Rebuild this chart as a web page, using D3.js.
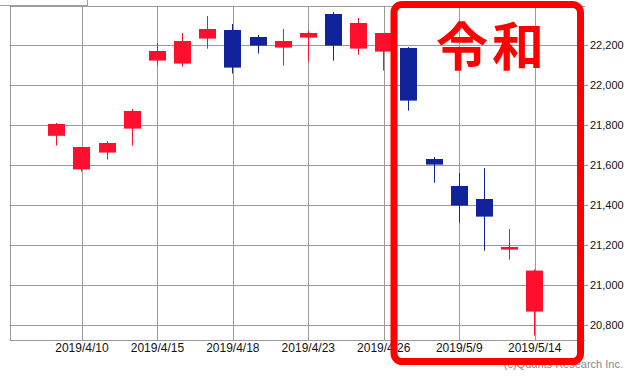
<!DOCTYPE html>
<html>
<head>
<meta charset="utf-8">
<script src="https://cdn.jsdelivr.net/npm/d3@7"></script>
<style>
  body { margin: 0; background: #fff; }
  svg { display: block; }
</style>
</head>
<body>
<svg id="chart" width="634" height="378"></svg>
<script>
// Nikkei 225 daily candles, 2019/4/9 - 2019/5/14
const dates = ["2019/4/9", "2019/4/10", "2019/4/11", "2019/4/12", "2019/4/15", "2019/4/16", "2019/4/17",
    "2019/4/18", "2019/4/19", "2019/4/22", "2019/4/23", "2019/4/24", "2019/4/25", "2019/4/26",
    "2019/5/7", "2019/5/8", "2019/5/9", "2019/5/10", "2019/5/13", "2019/5/14"];
const opens  = [21746, 21578, 21662, 21782, 22122, 22107, 22232, 22275, 22240, 22187, 22237, 22355, 22182, 22167,
    22185, 21630, 21495, 21430, 21177, 20867];
const highs  = [21810, 21690, 21720, 21880, 22210, 22260, 22345, 22305, 22250, 22280, 22270, 22365, 22335, 22260,
    22190, 21640, 21560, 21585, 21280, 21078];
const lows   = [21697, 21567, 21627, 21697, 22100, 22092, 22182, 22057, 22157, 22097, 22117, 22122, 22152, 22072,
    21872, 21512, 21312, 21172, 21127, 20747];
const closes = [21805, 21690, 21710, 21870, 22170, 22220, 22280, 22087, 22197, 22220, 22260, 22197, 22310, 22260,
    21922, 21602, 21397, 21342, 21190, 21072];

const xTickLabels = ["2019/4/10", "2019/4/15", "2019/4/18", "2019/4/23", "2019/4/26", "2019/5/9", "2019/5/14"];
const yTicks = [20800, 21000, 21200, 21400, 21600, 21800, 22000, 22200];

const data = dates.map((d, i) => ({ date: d, i: i, o: opens[i], h: highs[i], l: lows[i], c: closes[i] }));

const svg = d3.select("#chart");
const plotL = 9.5, plotR = 585, plotT = 6, plotB = 340;

const x = d3.scaleLinear().domain([-1.88, 21]).range([plotL, plotR]);
const y = d3.scaleLinear().domain([20725, 22395]).range([plotB, plotT]);

const gridColor = "#9a9a9a";
const upColor = "#fe0f2d";
const downColor = "#10239a";
const px = v => Math.round(v) + 0.5;

// grid
const grid = svg.append("g");
grid.selectAll(".hgrid")
    .data(yTicks)
    .enter().append("line")
    .attr("class", "hgrid")
    .attr("x1", plotL).attr("x2", plotR + 3)
    .attr("y1", d => px(y(d))).attr("y2", d => px(y(d)))
    .attr("stroke", gridColor);

grid.selectAll(".vgrid")
    .data(xTickLabels)
    .enter().append("line")
    .attr("class", "vgrid")
    .attr("x1", d => px(x(dates.indexOf(d)))).attr("x2", d => px(x(dates.indexOf(d))))
    .attr("y1", plotT).attr("y2", plotB)
    .attr("stroke", gridColor);

// frame
grid.append("line").attr("x1", px(plotL)).attr("x2", px(plotL)).attr("y1", plotT).attr("y2", plotB).attr("stroke", gridColor);
grid.append("line").attr("x1", plotL).attr("x2", plotR).attr("y1", px(plotT)).attr("y2", px(plotT)).attr("stroke", gridColor);
grid.append("line").attr("x1", plotL).attr("x2", plotR).attr("y1", px(plotB)).attr("y2", px(plotB)).attr("stroke", gridColor);

// little box at top-left corner
svg.append("rect")
    .attr("x", -1).attr("y", -10).attr("width", 88.5).attr("height", 15.5)
    .attr("fill", "#fff").attr("stroke", "#a0a0a0");

// candles
const candles = svg.append("g").selectAll(".candle")
    .data(data)
    .enter().append("g")
    .attr("class", "candle");

candles.append("line")
    .attr("x1", d => px(x(d.i) - 0.5)).attr("x2", d => px(x(d.i) - 0.5))
    .attr("y1", d => y(d.h)).attr("y2", d => y(d.l))
    .attr("stroke", d => d.c >= d.o ? upColor : downColor)
    .attr("stroke-width", 1);

candles.append("rect")
    .attr("x", d => Math.round(x(d.i) - 8.5))
    .attr("width", 17)
    .attr("y", d => y(Math.max(d.o, d.c)))
    .attr("height", d => Math.max(1, y(Math.min(d.o, d.c)) - y(Math.max(d.o, d.c))))
    .attr("fill", d => d.c >= d.o ? upColor : downColor);

// axis labels
svg.selectAll(".ylab")
    .data(yTicks)
    .enter().append("text")
    .attr("class", "ylab")
    .attr("x", 590)
    .attr("y", d => y(d))
    .attr("dy", "0.36em")
    .style("font-family", "Liberation Sans, Arial, sans-serif")
    .style("font-size", "11px")
    .attr("fill", "#111")
    .text(d3.format(","));

svg.selectAll(".xlab")
    .data(xTickLabels)
    .enter().append("text")
    .attr("class", "xlab")
    .attr("x", d => x(dates.indexOf(d)))
    .attr("y", 352)
    .style("text-anchor", "middle")
    .style("font-family", "Liberation Sans, Arial, sans-serif")
    .style("font-size", "12px")
    .attr("fill", "#111")
    .text(d => d);

svg.append("text")
    .attr("x", 623)
    .attr("y", 368)
    .style("text-anchor", "end")
    .style("font-family", "Liberation Sans, Arial, sans-serif")
    .style("font-size", "11px")
    .attr("fill", "#888")
    .text("(c)Quants Research Inc.");

// highlight box
svg.append("rect")
    .attr("x", 394).attr("y", 4.5)
    .attr("width", 186.5).attr("height", 357)
    .attr("rx", 8).attr("ry", 8)
    .attr("fill", "none")
    .attr("stroke", "#ff0000")
    .attr("stroke-width", 7);

svg.append("text")
    .attr("x", 492)
    .attr("y", 43.5)
    .attr("dominant-baseline", "central")
    .style("text-anchor", "middle")
    .style("font-family", "'Noto Sans CJK JP', sans-serif")
    .style("font-weight", "bold")
    .style("font-size", "52px")
    .style("letter-spacing", "4px")
    .attr("fill", "#ff0000")
    .text("令和");
</script>
</body>
</html>
